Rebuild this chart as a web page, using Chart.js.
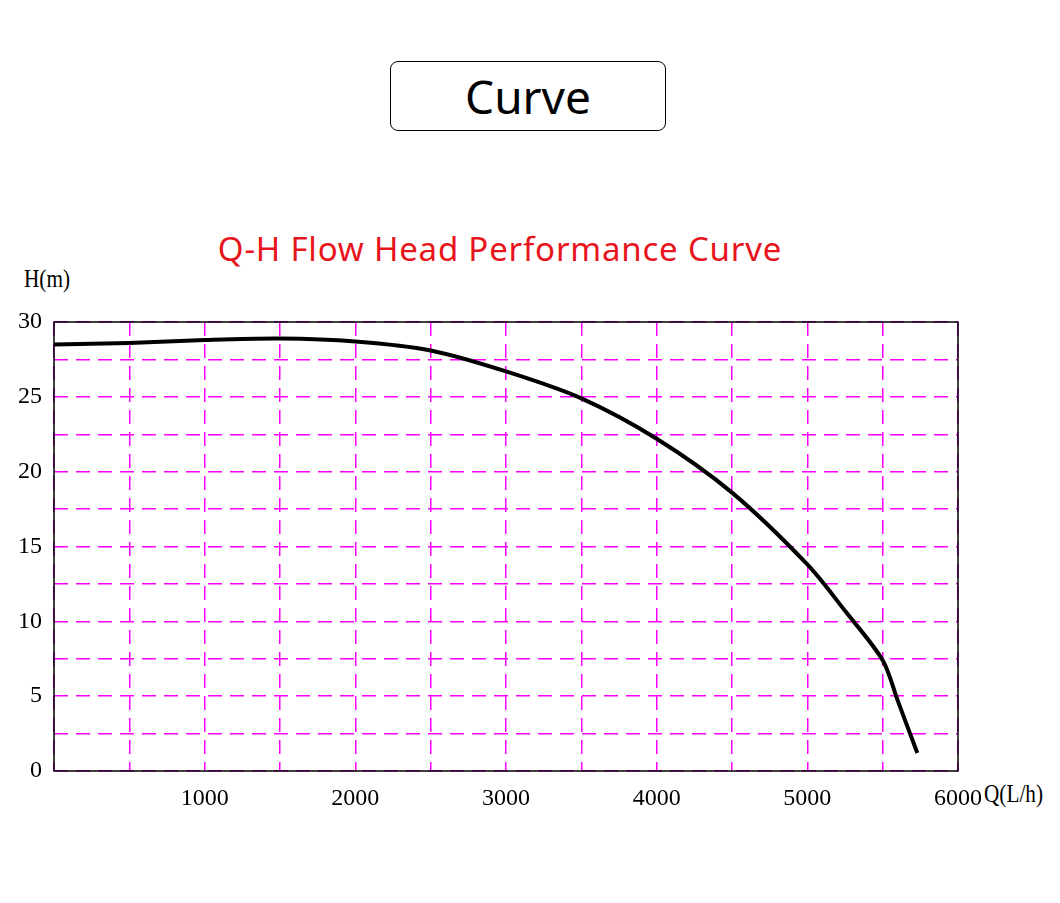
<!DOCTYPE html>
<html>
<head>
<meta charset="utf-8">
<script src="https://cdn.jsdelivr.net/npm/chart.js@4"></script>
<style>
  body { margin:0; width:1060px; height:903px; background:#fff; position:relative; overflow:hidden; font-family:"Noto Sans", sans-serif; }
  #wrap { position:absolute; left:0; top:0; width:1060px; height:903px; }
  .box { position:absolute; left:390px; top:61px; width:274px; height:68px; border:1.5px solid #000; border-radius:8px;
         font-size:46px; text-align:center; line-height:68px; color:#000; }
  .title { position:absolute; left:0; width:1000px; top:226px; text-align:center; color:#e8141c; font-size:33px; letter-spacing:0.8px; }
  .lbl { position:absolute; font-family:"Liberation Serif", serif; font-size:25px; color:#000; transform:scaleX(0.85); transform-origin:left top; }
</style>
</head>
<body>
<div class="box">Curve</div>
<div class="title">Q-H Flow Head Performance Curve</div>
<div class="lbl" style="left:24px;top:265px;">H(m)</div>
<div class="lbl" style="left:984px;top:780px;">Q(L/h)</div>
<div id="wrap"><canvas id="c" width="1060" height="903"></canvas></div>
<script>
"use strict";

// Q-H curve
const FLOW = [0, 500, 1000, 1500, 2000, 2500, 3000, 3500, 4000, 4500, 5000, 5250, 5500, 5600, 5730];
const HEAD = [28.5, 28.6, 28.8, 28.9, 28.7, 28.1, 26.7, 24.9, 22.2, 18.6, 13.8, 10.7, 7.4, 4.7, 1.2];
const X_LABELS = [1000, 2000, 3000, 4000, 5000, 6000];
const Y_LABELS = [0, 5, 10, 15, 20, 25, 30];

const tickFont = { family: "Liberation Serif", size: 24 };

const frame = {
  id: "frame",
  afterDraw(chart) {
    const a = chart.chartArea, ctx = chart.ctx;
    ctx.save();
    ctx.strokeStyle = "#000";
    ctx.lineWidth = 1.5;
    ctx.strokeRect(a.left, a.top, a.right - a.left, a.bottom - a.top);
    ctx.restore();
  }
};

new Chart(document.getElementById("c"), {
  type: "line",
  data: {
    datasets: [{
      data: FLOW.map((q, i) => ({ x: q, y: HEAD[i] })),
      borderColor: "#000", borderWidth: 4, pointRadius: 0, tension: 0.3, fill: false,
    }],
  },
  options: {
    responsive: false,
    animation: false,
    layout: { padding: { left: 0, top: 322, right: 102, bottom: 0 } },
    plugins: { legend: { display: false }, tooltip: { enabled: false } },
    scales: {
      x: {
        type: "linear", min: 0, max: 6000,
        afterFit: s => { s.height = 132; },
        grid: { color: "#ff00ff", lineWidth: 1.5, drawTicks: false },
        border: { display: false, dash: [14, 8] },
        ticks: {
          stepSize: 500, padding: 13, color: "#000", font: tickFont, maxRotation: 0, autoSkip: false,
          callback: v => X_LABELS.includes(v) ? String(v) : "",
        },
      },
      y: {
        min: 0, max: 30,
        afterFit: s => { s.width = 54; },
        grid: { color: "#ff00ff", lineWidth: 1.5, drawTicks: false },
        border: { display: false, dash: [14, 8] },
        ticks: {
          stepSize: 2.5, padding: 12, color: "#000", font: tickFont, autoSkip: false,
          callback: v => Y_LABELS.includes(v) ? String(v) : "",
        },
      },
    },
  },
  plugins: [frame],
});
</script>
</body>
</html>
